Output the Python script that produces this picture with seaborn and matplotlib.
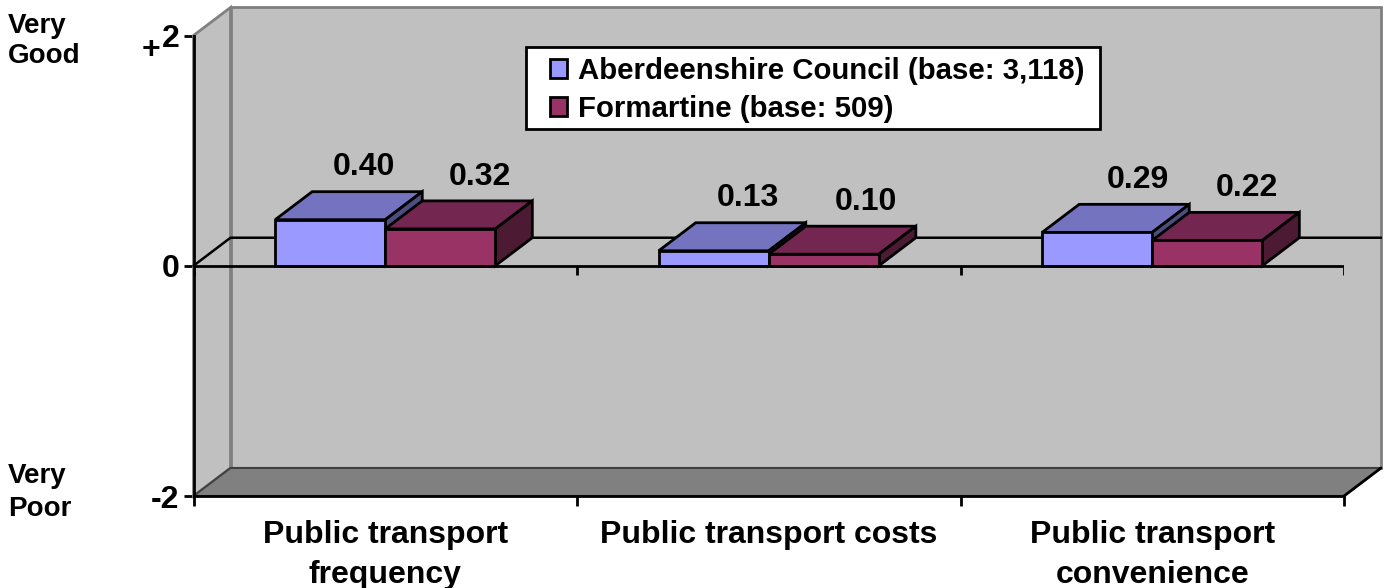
import numpy as np
import pandas as pd
import seaborn as sns
import matplotlib.pyplot as plt
from matplotlib.patches import Polygon, Rectangle

categories = ['Public transport\nfrequency', 'Public transport costs', 'Public transport\nconvenience']
series_names = ['Aberdeenshire Council (base: 3,118)', 'Formartine (base: 509)']
aberdeenshire = [0.40, 0.13, 0.29]
formartine = [0.32, 0.10, 0.22]
y_ticks = [-2, 0, 2]
y_ticklabels = ['-2', '0', '2']

front_cols = ['#9999FF', '#993366']
top_cols = ['#7373BF', '#732650']
side_cols = ['#4D4D80', '#4D1A33']

df = pd.DataFrame({
    'cat': categories * 2,
    'series': [series_names[0]] * 3 + [series_names[1]] * 3,
    'val': aberdeenshire + formartine,
})

W, H = 1388, 588
sns.set_theme(style='white')
plt.rcParams['font.family'] = ['Liberation Sans', 'DejaVu Sans']
plt.rcParams['font.weight'] = 'bold'

fig = plt.figure(figsize=(W / 100, H / 100), dpi=100, facecolor='white')
ax = fig.add_axes([193.5 / W, 1 - 496 / H, 1150.5 / W, 460.5 / H])
ax.patch.set_alpha(0)

sns.barplot(data=df, x='cat', y='val', hue='series', palette=front_cols, hue_order=series_names,
            width=0.574, gap=0, saturation=1, edgecolor='black', linewidth=2, ax=ax)
ax.set_xlim(-0.5, 2.5)
ax.set_ylim(-2, 2)

# depth of the fake 3d, in data units
dx = 37 / (1150 / 3)
dy = 28 / (460 / 4)
x0, x1 = -0.5, 2.5


def poly(pts, fc, ec, lw, z):
    ax.add_patch(Polygon(pts, closed=True, facecolor=fc, edgecolor=ec, linewidth=lw,
                         zorder=z, clip_on=False, joinstyle='miter'))


# walls and floor
poly([(x0 + dx, -2 + dy), (x1 + dx, -2 + dy), (x1 + dx, 2 + dy), (x0 + dx, 2 + dy)], '#C0C0C0', '#808080', 2, 0.5)
poly([(x0, -2), (x0 + dx, -2 + dy), (x0 + dx, 2 + dy), (x0, 2)], '#C0C0C0', '#808080', 2, 0.6)
poly([(x0, -2), (x1, -2), (x1 + dx, -2 + dy), (x0 + dx, -2 + dy)], '#808080', '#404040', 1.5, 0.7)

# zero line round the back
ax.plot([x0, x0 + dx, x1 + dx], [0, dy, dy], color='black', lw=1.8, zorder=0.8, clip_on=False)
ax.plot([x0, x1], [0, 0], color='black', lw=2, zorder=9)
ax.vlines(np.arange(x0, x1 + 1), -9 / 115, 0, color='black', lw=2, zorder=9)
ax.plot([x1, x1 + dx], [-2, -2 + dy], color='black', lw=2, zorder=0.9, clip_on=False)

# top and side faces, then labels (offsets in points, nudged per bar)
z = 2
label_dx = [[24.5, 24.5, 29], [28.5, 30, 28.5]]
for s, cont in enumerate(ax.containers[:2]):
    for i, bar in enumerate(cont):
        x = bar.get_x()
        w = bar.get_width()
        v = bar.get_height()
        poly([(x, v), (x + w, v), (x + w + dx, v + dy), (x + dx, v + dy)], top_cols[s], 'black', 2, z)
        poly([(x + w, 0), (x + w + dx, dy), (x + w + dx, v + dy), (x + w, v)], side_cols[s], 'black', 2, z)
        bar.set_zorder(z + 0.5)
        bar.set_clip_on(False)
        ax.annotate(f'{v:.2f}', (x + w / 2, v + dy), xytext=(label_dx[s][i], 17.5), textcoords='offset points',
                    ha='center', va='center', fontsize=23, fontweight='bold', color='black', zorder=12)
        z += 1

for side in ['top', 'right']:
    ax.spines[side].set_visible(False)
for side in ['left', 'bottom']:
    ax.spines[side].set_linewidth(2)
    ax.spines[side].set_color('black')
    ax.spines[side].set_zorder(10)

ax.set_xticks(np.arange(x0, x1 + 1))
ax.set_xticklabels([])
ax.set_xticks(range(3), categories, minor=True)
ax.tick_params(axis='x', which='major', bottom=True, length=7, width=2, color='black')
ax.tick_params(axis='x', which='minor', bottom=False, length=0, pad=17, labelsize=23)
ax.set_yticks(y_ticks, y_ticklabels)
ax.tick_params(axis='y', left=True, length=7, width=2, color='black', pad=3, labelsize=23)
ax.set_xlabel('')
ax.set_ylabel('')

for lab in ax.get_xticklabels(minor=True) + ax.get_yticklabels():
    lab.set_fontweight('bold')
    lab.set_color('black')
for lab in ax.get_xticklabels(minor=True):
    lab.set_linespacing(1.45)

fig.text(142 / W, 1 - 50 / H, '+', fontsize=23, fontweight='bold', ha='left', va='center', color='black')
fig.text(8 / W, 1 - 41 / H, 'Very\nGood', fontsize=20, fontweight='bold', ha='left', va='center', linespacing=1.2, color='black')
fig.text(8 / W, 1 - 492.5 / H, 'Very\nPoor', fontsize=20, fontweight='bold', ha='left', va='center', linespacing=1.33, color='black')

# legend box is wider than its vertical padding allows, so the frame is its own patch
ax.add_patch(Rectangle((526 / W, 1 - 129 / H), 574 / W, 82 / H, transform=fig.transFigure, facecolor='white',
                       edgecolor='black', linewidth=2, zorder=19, clip_on=False))
leg = ax.legend(loc='upper left', bbox_to_anchor=(550 / W, 1 - 57 / H), bbox_transform=fig.transFigure,
                frameon=False, prop={'weight': 'bold', 'size': 21.2}, handlelength=0.58, handleheight=0.58,
                handletextpad=0.37, borderaxespad=0, borderpad=0, labelspacing=0.34, title=None)
leg.set_zorder(20)
for t in leg.get_texts():
    t.set_color('black')

fig.savefig('out.png', dpi=100, facecolor='white')
